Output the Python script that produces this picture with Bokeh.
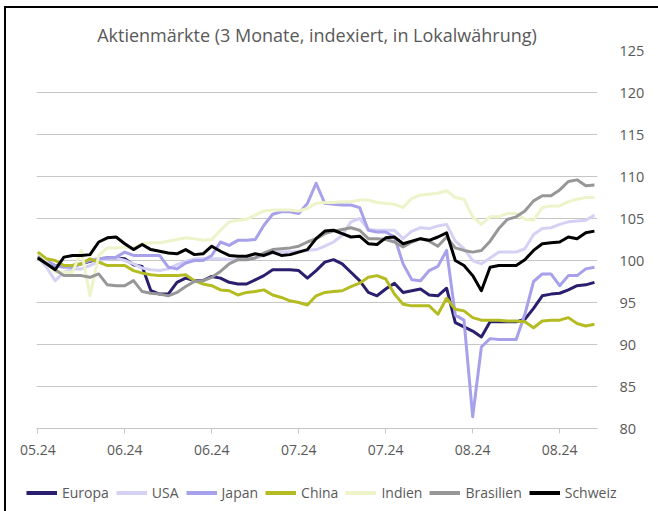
from bokeh.plotting import figure
from bokeh.models import Range1d, FixedTicker, Legend, LegendItem
from bokeh.layouts import column
from bokeh.embed import file_html
from bokeh.resources import INLINE

# ---------------- data ----------------
x_idx = list(range(65))
x_tick_pos = [0, 10, 20, 30, 40, 50, 60]
x_tick_labels = ["05.24", "06.24", "06.24", "07.24", "07.24", "08.24", "08.24"]
y_ticks = [80, 85, 90, 95, 100, 105, 110, 115, 120, 125]

europa = [100.4, 99.8, 99.4, 99.4, 99.4, 99.6, 99.9, 100.2, 100.3, 100.3,
          100.2, 99.5, 99.3, 96.4, 96.0, 96.0, 97.4, 97.9, 97.6, 97.6,
          98.1, 97.9, 97.4, 97.2, 97.2, 97.7, 98.2, 98.9, 98.9, 98.9,
          98.8, 97.9, 98.8, 99.8, 100.1, 99.6, 98.6, 97.6, 96.2, 95.8,
          96.6, 97.3, 96.2, 96.4, 96.6, 95.9, 95.8, 96.7, 92.6, 92.1,
          91.6, 90.9, 92.7, 92.7, 92.7, 92.7, 93.0, 94.3, 95.8, 96.0,
          96.1, 96.5, 97.0, 97.1, 97.4]
usa = [100.4, 99.2, 97.6, 98.6, 99.0, 99.0, 99.4, 99.9, 100.2, 100.3,
       100.0, 99.6, 99.1, 98.9, 98.8, 99.0, 99.5, 99.9, 100.2, 100.2,
       100.2, 100.2, 100.1, 100.1, 100.2, 100.3, 100.6, 100.9, 101.0, 101.0,
       101.1, 101.2, 101.3, 101.7, 102.2, 103.0, 104.6, 105.0, 103.7, 103.6,
       103.6, 103.6, 102.6, 103.5, 103.9, 103.8, 104.1, 104.3, 102.3, 101.4,
       100.0, 99.6, 100.3, 101.0, 101.0, 101.0, 101.4, 103.1, 103.8, 103.9,
       104.3, 104.6, 104.7, 104.8, 105.4]
japan = [100.6, 100.0, 99.4, 99.2, 99.2, 99.6, 100.0, 100.2, 100.3, 100.4,
         101.0, 100.6, 100.6, 100.6, 100.6, 99.2, 99.0, 99.7, 100.0, 100.0,
         100.6, 102.2, 101.8, 102.4, 102.4, 102.5, 104.2, 105.5, 105.8, 105.8,
         105.6, 106.8, 109.2, 106.8, 106.7, 106.6, 106.6, 106.3, 103.6, 103.4,
         103.4, 102.8, 99.6, 97.7, 97.6, 98.8, 99.3, 101.2, 93.5, 92.9,
         81.4, 89.7, 90.7, 90.6, 90.6, 90.6, 93.6, 97.5, 98.4, 98.4,
         97.0, 98.2, 98.2, 99.0, 99.2]
china = [101.0, 100.2, 100.0, 99.4, 99.4, 99.6, 100.2, 99.8, 99.4, 99.4,
         99.4, 98.8, 98.5, 98.3, 98.2, 98.2, 98.2, 98.3, 97.6, 97.2,
         97.0, 96.5, 96.4, 95.9, 96.2, 96.3, 96.5, 95.9, 95.6, 95.2,
         95.0, 94.7, 95.8, 96.2, 96.3, 96.4, 96.9, 97.3, 98.0, 98.2,
         97.8, 96.0, 94.8, 94.6, 94.6, 94.6, 93.6, 95.5, 94.2, 94.0,
         93.2, 92.9, 92.9, 92.9, 92.8, 92.8, 92.7, 92.0, 92.8, 92.9,
         92.9, 93.2, 92.5, 92.2, 92.4]
indien = [100.6, 99.8, 98.6, 98.6, 98.6, 101.2, 95.8, 100.6, 101.5, 101.5,
          101.6, 101.5, 102.0, 102.1, 102.1, 102.3, 102.5, 102.7, 102.6, 102.4,
          102.5, 103.6, 104.6, 104.8, 104.9, 105.4, 105.9, 106.0, 106.0, 106.0,
          105.9, 106.2, 106.8, 106.9, 106.9, 107.0, 107.0, 107.2, 107.2, 106.9,
          106.8, 106.7, 106.3, 107.4, 107.8, 107.9, 108.0, 108.3, 107.5, 107.3,
          105.2, 104.3, 105.2, 105.2, 105.6, 105.6, 104.9, 104.8, 106.3, 106.5,
          106.5, 107.0, 107.3, 107.5, 107.5]
brasilien = [100.5, 99.6, 98.9, 98.2, 98.2, 98.2, 98.0, 98.4, 97.1, 97.0,
             97.0, 97.6, 96.3, 96.1, 96.0, 95.8, 96.2, 96.9, 97.5, 97.6,
             98.0, 98.7, 99.6, 100.1, 100.1, 100.3, 100.9, 101.3, 101.4, 101.5,
             101.7, 102.2, 102.6, 103.2, 103.5, 103.7, 103.9, 103.6, 102.6, 102.6,
             102.5, 102.2, 101.6, 102.2, 102.6, 102.3, 101.7, 102.8, 101.5, 101.2,
             101.0, 101.2, 102.3, 103.8, 104.9, 105.2, 105.9, 107.1, 107.7, 107.7,
             108.4, 109.4, 109.6, 108.9, 109.0]
schweiz = [100.3, 99.6, 98.9, 100.4, 100.6, 100.6, 100.7, 102.2, 102.7, 102.8,
           102.0, 101.3, 101.9, 101.3, 101.1, 100.9, 100.8, 101.3, 100.7, 100.8,
           101.7, 101.1, 100.6, 100.5, 100.5, 100.8, 100.6, 101.0, 100.6, 100.7,
           101.0, 101.3, 102.6, 103.5, 103.6, 103.2, 102.8, 102.9, 102.0, 101.9,
           102.7, 102.8, 102.0, 102.3, 102.6, 102.4, 102.8, 103.3, 100.0, 99.4,
           98.2, 96.4, 99.2, 99.4, 99.4, 99.4, 100.1, 101.2, 102.0, 102.1,
           102.2, 102.8, 102.6, 103.3, 103.5]

series_names = ["Europa", "USA", "Japan", "China", "Indien", "Brasilien", "Schweiz"]
series_values = [europa, usa, japan, china, indien, brasilien, schweiz]
series_colors = ["#2a1f6e", "#d4d1f5", "#a7a0ea", "#b4bc22", "#eef3c9", "#979797", "#000000"]

FONT = "Open Sans"
TXT = "#595959"
GRID = "#c6c6c6"

# ---------------- main chart ----------------
p = figure(width=652, height=462,
           x_range=Range1d(-0.15, 64.35), y_range=Range1d(80, 125),
           y_axis_location="right",
           output_backend="svg", toolbar_location=None,
           min_border_left=30, min_border_right=61,
           min_border_top=42, min_border_bottom=42)

p.title.text = "Aktienmärkte (3 Monate, indexiert, in Lokalwährung)"
p.title.align = "center"
p.title.text_font = FONT
p.title.text_font_size = "18px"
p.title.text_font_style = "normal"
p.title.text_color = TXT
p.title.standoff = 8

p.outline_line_color = None
p.background_fill_color = "white"
p.border_fill_color = "white"

xa = p.xaxis[0]
xa.ticker = FixedTicker(ticks=x_tick_pos)
xa.major_label_overrides = {t: l for t, l in zip(x_tick_pos, x_tick_labels)}
xa.axis_line_color = GRID
xa.major_tick_line_color = GRID
xa.major_tick_in = 0
xa.major_tick_out = 5
xa.minor_tick_line_color = None
xa.major_label_standoff = 11
xa.major_label_text_font = FONT
xa.major_label_text_font_size = "14px"
xa.major_label_text_color = TXT

ya = p.yaxis[0]
ya.ticker = FixedTicker(ticks=y_ticks)
ya.axis_line_color = None
ya.major_tick_line_color = None
ya.minor_tick_line_color = None
ya.major_label_standoff = 16
ya.major_label_text_font = FONT
ya.major_label_text_font_size = "14.5px"
ya.major_label_text_color = TXT

p.xgrid.visible = False
p.ygrid.grid_line_color = GRID
p.ygrid.grid_line_width = 1

for name, vals, col in zip(series_names, series_values, series_colors):
    p.line(x_idx, vals, line_width=3, line_color=col, line_join="round")

# ---------------- legend strip ----------------
# same series, but the strip's ranges keep the lines out of view; only the legend shows
q = figure(width=652, height=41,
           x_range=Range1d(0, 1), y_range=Range1d(0, 1),
           x_axis_location=None, y_axis_location=None,
           output_backend="svg", toolbar_location=None,
           min_border_left=0, min_border_right=0,
           min_border_top=0, min_border_bottom=0)
q.grid.visible = False
q.outline_line_color = None
q.border_fill_color = "white"
if "frame_align" in q.properties():
    q.frame_align = False
if "frame_align" in p.properties():
    p.frame_align = False

items = []
for name, vals, col in zip(series_names, series_values, series_colors):
    r = q.line(x_idx, vals, line_width=4, line_color=col)
    items.append(LegendItem(label=name, renderers=[r]))

legend = Legend(items=items, orientation="horizontal", location=(20, 9),
                label_text_font=FONT, label_text_font_size="14px", label_text_color=TXT,
                glyph_width=31, glyph_height=17, label_standoff=5, spacing=7,
                padding=6, margin=0, border_line_color=None, background_fill_alpha=0)
q.add_layout(legend, "center")

layout = column(p, q, spacing=0,
                styles={"margin-left": "4px", "margin-top": "6px",
                        "border-left": "2px solid #000000",
                        "border-top": "2px solid #000000"})

open("out.html", "w").write(file_html(layout, INLINE))
